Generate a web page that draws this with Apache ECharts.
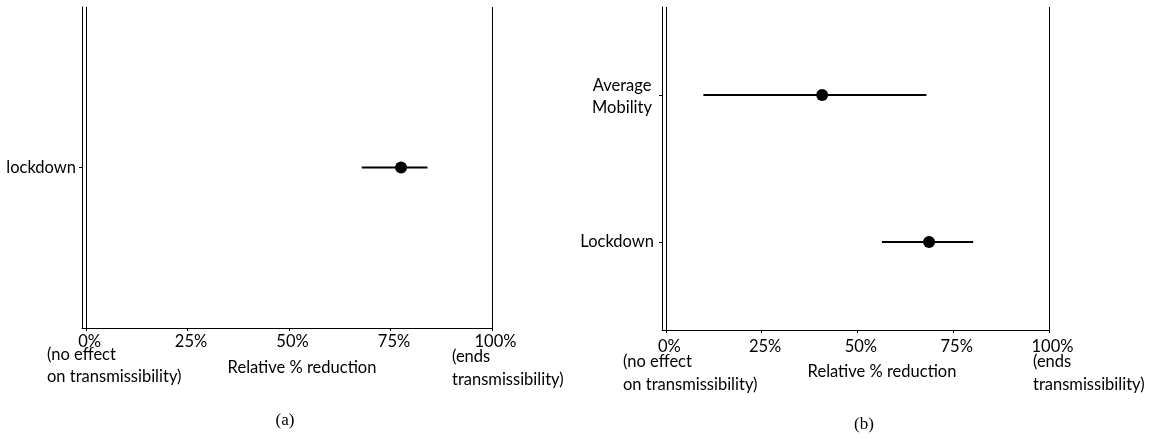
<!DOCTYPE html>
<html><head><meta charset="utf-8">
<script src="https://cdn.jsdelivr.net/npm/echarts@6/dist/echarts.min.js"></script>
<style>html,body{margin:0;padding:0;background:#fff}#c{width:1161px;height:438px}</style>
</head><body><div id="c"></div>
<script>
// ---- data ----
const xTicks = [0, 25, 50, 75, 100];
const catsA = ['lockdown'];
const pointA = [77.6];
const lowA = [67.9];
const highA = [84.1];
const catsB = ['Average\nMobility', 'Lockdown'];
const pointB = [40.8, 68.7];
const lowB = [9.8, 56.4];
const highB = [68.0, 80.2];

const FONT = 'Lato';
const FS = 16.5;
const yPos = (cats) => cats.map((c, i) => cats.length - i);
const yA = yPos(catsA), yB = yPos(catsB);

function errRender(params, api) {
  const y = api.value(0), lo = api.value(1), hi = api.value(2);
  const p1 = api.coord([lo, y]), p2 = api.coord([hi, y]);
  return { type: 'line', shape: { x1: p1[0], y1: p1[1], x2: p2[0], y2: p2[1] },
    style: { stroke: '#000', lineWidth: 2 } };
}

function xAxisCfg(idx, margin) {
  return {
    type: 'value', gridIndex: idx, min: -1, max: 100,
    axisLine: { show: true, onZero: false, lineStyle: { color: '#000', width: 1 } },
    axisTick: { show: true, length: 3, customValues: xTicks, lineStyle: { color: '#000' } },
    axisLabel: { customValues: xTicks, formatter: v => v + '%', margin: margin,
      color: '#000', fontFamily: FONT, fontSize: FS, padding: [0, 0, 0, 7] },
    splitLine: { show: false }
  };
}
function yLabel(name) {
  if (name.indexOf('\n') < 0) return name;
  return name.split('\n').map(s => '{m|' + s + '}').join('\n');
}
function yAxisCfg(idx, cats, max, margin) {
  const vals = yPos(cats);
  return {
    type: 'value', gridIndex: idx, min: 0.4, max: max,
    axisLine: { show: true, onZero: false, lineStyle: { color: '#000', width: 1 } },
    axisTick: { show: true, length: 3, customValues: vals, lineStyle: { color: '#000' } },
    axisLabel: { customValues: vals, formatter: v => yLabel(cats[cats.length - Math.round(v)]), margin: margin,
      color: '#000', fontFamily: FONT, fontSize: FS, lineHeight: 22, align: 'right',
      rich: { m: { width: 64, align: 'center', fontFamily: FONT, fontSize: FS, lineHeight: 22, color: '#000', padding: [3, 0, 0, 0] } } },
    splitLine: { show: false }
  };
}
const vlines = {
  silent: true, symbol: ['none', 'none'], label: { show: false },
  lineStyle: { color: '#000', width: 1, type: 'solid', opacity: 1 }, animation: false,
  emphasis: { disabled: true },
  data: [{ xAxis: 0 }, { xAxis: 100 }]
};

function txt(x, y, s, align, font, size) {
  return { type: 'text', x: x, y: y, style: { text: s, fill: '#000', textAlign: align || 'left',
    textVerticalAlign: 'middle', fontFamily: font || FONT, fontSize: size || FS } };
}

const chart = echarts.init(document.getElementById('c'), null, { renderer: 'canvas' });
chart.setOption({
  animation: false,
  backgroundColor: '#fff',
  grid: [
    { left: 82, top: 7, width: 410, height: 321 },
    { left: 662, top: 7, width: 387, height: 323 }
  ],
  xAxis: [xAxisCfg(0, 5), xAxisCfg(1, 8)],
  yAxis: [yAxisCfg(0, catsA, 1.6, 6), yAxisCfg(1, catsB, 2.6, 8)],
  series: [
    { type: 'custom', xAxisIndex: 0, yAxisIndex: 0, renderItem: errRender,
      encode: { x: [1, 2], y: 0 }, data: yA.map((y, i) => [y, lowA[i], highA[i]]), markLine: vlines },
    { type: 'scatter', xAxisIndex: 0, yAxisIndex: 0, symbol: 'circle', symbolSize: 12,
      itemStyle: { color: '#000', opacity: 1 }, z: 5, data: yA.map((y, i) => [pointA[i], y]) },
    { type: 'custom', xAxisIndex: 1, yAxisIndex: 1, renderItem: errRender,
      encode: { x: [1, 2], y: 0 }, data: yB.map((y, i) => [y, lowB[i], highB[i]]), markLine: vlines },
    { type: 'scatter', xAxisIndex: 1, yAxisIndex: 1, symbol: 'circle', symbolSize: 12,
      itemStyle: { color: '#000', opacity: 1 }, z: 5, data: yB.map((y, i) => [pointB[i], y]) }
  ],
  graphic: [
    txt(47, 355, '(no effect'), txt(47, 377, 'on transmissibility)'),
    txt(452, 357, '(ends'), txt(452, 380, 'transmissibility)'),
    txt(302, 368, 'Relative % reduction', 'center'),
    txt(285, 421, '(a)', 'center', 'Liberation Serif', 17),
    txt(623, 362, '(no effect'), txt(623, 385, 'on transmissibility)'),
    txt(1033, 362, '(ends'), txt(1033, 385, 'transmissibility)'),
    txt(882, 372, 'Relative % reduction', 'center'),
    txt(864, 425, '(b)', 'center', 'Liberation Serif', 17)
  ]
});
</script></body></html>
